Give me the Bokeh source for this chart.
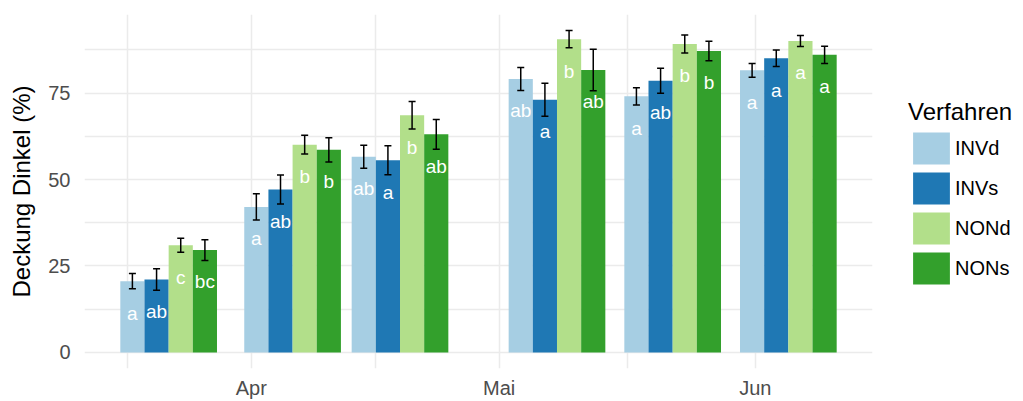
import pandas as pd
from bokeh.plotting import figure
from bokeh.models import (ColumnDataSource, Range1d, FixedTicker, Whisker, TeeHead,
                          Legend, LegendItem)
from bokeh.core.properties import value
from bokeh.embed import file_html
from bokeh.resources import INLINE

# ---------------- data ----------------
dates = ["2017-03-22", "2017-04-06", "2017-04-19", "2017-05-08", "2017-05-22", "2017-06-05"]
verfahren = ["INVd", "INVs", "NONd", "NONs"]
colors = ["#a6cee3", "#1f78b4", "#b2df8a", "#33a02c"]

invd_mean = [20.6, 42.1, 56.6, 79.1, 74.1, 81.6]
invs_mean = [21.1, 47.1, 55.6, 73.1, 78.6, 85.1]
nond_mean = [31.0, 60.1, 68.6, 90.6, 89.2, 90.1]
nons_mean = [29.6, 58.6, 63.1, 81.7, 87.2, 86.1]

invd_se = [2.2, 3.8, 3.3, 3.3, 2.5, 2.0]
invs_se = [3.1, 4.2, 4.2, 4.8, 3.6, 2.4]
nond_se = [2.0, 2.7, 4.0, 2.5, 2.6, 1.6]
nons_se = [3.0, 3.5, 4.3, 6.0, 2.8, 2.5]

invd_letters = ["a", "a", "ab", "ab", "a", "a"]
invs_letters = ["ab", "ab", "a", "a", "ab", "a"]
nond_letters = ["c", "b", "b", "b", "b", "a"]
nons_letters = ["bc", "b", "ab", "ab", "b", "a"]

month_ticks = ["2017-04-01", "2017-05-01", "2017-06-01"]
month_labels = ["Apr", "Mai", "Jun"]
minor_ticks_dates = ["2017-03-17", "2017-04-16", "2017-05-16 12:00"]
y_ticks = [0, 25, 50, 75]
y_minor = [12.5, 37.5, 62.5, 87.5]

means = [invd_mean, invs_mean, nond_mean, nons_mean]
ses = [invd_se, invs_se, nond_se, nons_se]
letters = [invd_letters, invs_letters, nond_letters, nons_letters]

# ---------------- scales ----------------
def doy(s):
    t = pd.Timestamp(s)
    return t.dayofyear + t.hour / 24.0

xd = [doy(d) for d in dates]
res = min(b - a for a, b in zip(xd[:-1], xd[1:]))
group_w = 0.9 * res
bar_w = group_w / len(verfahren)

xmin, xmax = xd[0] - group_w / 2, xd[-1] + group_w / 2
ymax = max(m + s for mm, ss in zip(means, ses) for m, s in zip(mm, ss))
xpad = 0.05 * (xmax - xmin)
ypad = 0.05 * ymax

FONT = "Liberation Sans"

p = figure(frame_width=788, frame_height=354, output_backend="svg", toolbar_location=None,
           x_range=Range1d(xmin - xpad, xmax + xpad),
           y_range=Range1d(-ypad, ymax + ypad),
           min_border_left=84, min_border_right=151, min_border_top=14, min_border_bottom=33)
p.outline_line_color = None
p.background_fill_color = "white"

items = []
for i, (name, col) in enumerate(zip(verfahren, colors)):
    off = (i - (len(verfahren) - 1) / 2) * bar_w
    xs = [x + off for x in xd]
    m = means[i]
    s = ses[i]
    src = ColumnDataSource(dict(
        x=xs, top=m, upper=[a + b for a, b in zip(m, s)], lower=[a - b for a, b in zip(m, s)],
        ly=[a - 9.2 for a in m], lab=letters[i]))
    r = p.vbar(x="x", top="top", bottom=0, width=bar_w, source=src,
               fill_color=col, line_color=None)
    items.append(LegendItem(label=name, renderers=[r]))
    p.text(x="x", y="ly", text="lab", source=src, text_align="center",
           text_baseline="alphabetic", text_color="white", text_font_size="19px",
           text_font=value(FONT))
    w = Whisker(source=src, base="x", upper="upper", lower="lower",
                line_color="black", line_width=1.5,
                upper_head=TeeHead(size=7, line_color="black", line_width=1.5),
                lower_head=TeeHead(size=7, line_color="black", line_width=1.5))
    w.level = "annotation"
    p.add_layout(w)

# ---------------- axes ----------------
p.xaxis.ticker = FixedTicker(ticks=[doy(d) for d in month_ticks],
                             minor_ticks=[doy(d) for d in minor_ticks_dates])
p.xaxis.major_label_overrides = {doy(d): l for d, l in zip(month_ticks, month_labels)}
p.yaxis.ticker = FixedTicker(ticks=y_ticks, minor_ticks=y_minor)

for ax in (p.xaxis[0], p.yaxis[0]):
    ax.axis_line_color = None
    ax.major_tick_line_color = None
    ax.minor_tick_line_color = None
    ax.major_tick_out = 0
    ax.minor_tick_out = 0
    ax.major_tick_in = 0
    ax.minor_tick_in = 0
    ax.major_label_text_font = FONT
    ax.major_label_text_font_size = "20px"
    ax.major_label_text_color = "#4d4d4d"

p.xaxis.major_label_standoff = 8
p.yaxis.major_label_standoff = 14
p.yaxis.axis_label = "Deckung Dinkel (%)"
p.yaxis.axis_label_text_font = FONT
p.yaxis.axis_label_text_font_size = "24px"
p.yaxis.axis_label_text_font_style = "normal"
p.yaxis.axis_label_text_color = "black"
p.yaxis.axis_label_standoff = 10

for g in (p.xgrid[0], p.ygrid[0]):
    g.grid_line_color = "#ebebeb"
    g.grid_line_width = 1.5
    g.minor_grid_line_color = "#ebebeb"
    g.minor_grid_line_width = 1.5

# ---------------- legend ----------------
legend = Legend(items=items, location=(36, 80), title="Verfahren",
                title_text_font=FONT, title_text_font_size="24px",
                title_text_font_style="normal", title_text_color="black",
                title_standoff=2,
                label_text_font=FONT, label_text_font_size="20px", label_text_color="black",
                label_standoff=1, glyph_width=46, glyph_height=40, spacing=0,
                padding=0, margin=0, border_line_color=None, background_fill_alpha=0)
p.add_layout(legend, "right")

open("out.html", "w").write(file_html(p, INLINE))
